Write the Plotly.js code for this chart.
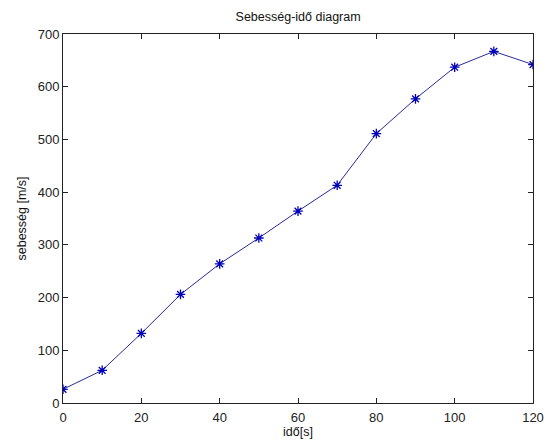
<!DOCTYPE html>
<html>
<head>
<meta charset="utf-8">
<script src="https://cdn.plot.ly/plotly-3.0.1.min.js"></script>
<style>html,body{margin:0;padding:0;background:#fff;}#chart{width:549px;height:441px;}</style>
</head>
<body>
<div id="chart"></div>
<script>
const timeSeconds = [0, 10, 20, 30, 40, 50, 60, 70, 80, 90, 100, 110, 120];
const speedValues = [26, 62, 132, 206, 264, 313, 364, 413, 511, 577, 637, 667, 642];
const xTickValues = [0, 20, 40, 60, 80, 100, 120];
const yTickValues = [0, 100, 200, 300, 400, 500, 600, 700];

const fontFamily = 'Arial, "Liberation Sans", sans-serif';

const trace = {
  x: timeSeconds,
  y: speedValues,
  type: 'scatter',
  mode: 'lines+markers',
  line: {color: '#2a2a9a', width: 1},
  marker: {symbol: 'asterisk-open', size: 8, color: '#0000b8', line: {color: '#0000b8', width: 1.3}},
  hoverinfo: 'skip'
};

const axisCommon = {
  showgrid: false,
  zeroline: false,
  showline: true,
  linecolor: '#222',
  linewidth: 1,
  mirror: 'ticks',
  ticks: 'inside',
  ticklen: 5,
  tickcolor: '#222',
  tickfont: {family: fontFamily, size: 13, color: '#222'}
};

const layout = {
  width: 549,
  height: 441,
  margin: {l: 63, r: 16, t: 34, b: 38},
  paper_bgcolor: '#fff',
  plot_bgcolor: '#fff',
  showlegend: false,
  title: {text: 'Sebesség-idő diagram', font: {family: fontFamily, size: 12.5, color: '#111'}, x: 0.543, xanchor: 'center', y: 0.962, yanchor: 'middle'},
  xaxis: Object.assign({}, axisCommon, {
    range: [0, 120],
    tickvals: xTickValues,
    ticktext: xTickValues.map(String),
    ticklabelstandoff: 2,
    title: {text: 'idő[s]', font: {family: fontFamily, size: 12.5, color: '#111'}, standoff: 1}
  }),
  yaxis: Object.assign({}, axisCommon, {
    range: [0, 700],
    tickvals: yTickValues,
    ticktext: yTickValues.map(String),
    title: {text: 'sebesség [m/s]', font: {family: fontFamily, size: 12.5, color: '#111'}, standoff: 8}
  })
};

Plotly.newPlot('chart', [trace], layout, {staticPlot: true, displayModeBar: false});
</script>
</body>
</html>
